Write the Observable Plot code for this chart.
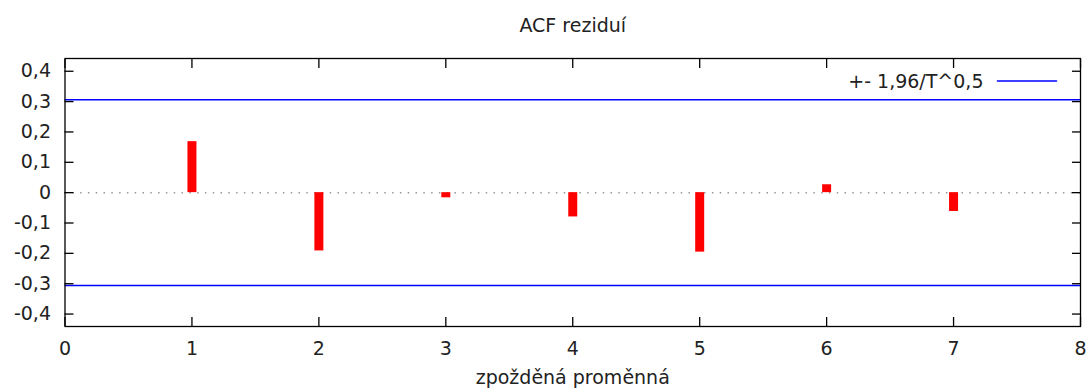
<!DOCTYPE html>
<html><head><meta charset="utf-8">
<script src="https://cdn.jsdelivr.net/npm/d3@7"></script>
<script src="https://cdn.jsdelivr.net/npm/@observablehq/plot@0.6"></script>
<style>body{margin:0;background:#fff}</style>
</head><body><div id="chart"></div>
<script>
const lags = [1, 2, 3, 4, 5, 6, 7];
const acf = [0.168, -0.192, -0.017, -0.080, -0.196, 0.026, -0.062];
const bandValue = 0.306;
const xTicks = [0, 1, 2, 3, 4, 5, 6, 7, 8];
const yTicks = [-0.4, -0.3, -0.2, -0.1, 0, 0.1, 0.2, 0.3, 0.4];
const title = "ACF reziduí";
const xLabel = "zpožděná proměnná";
const legendLabel = "+- 1,96/T^0,5";

const data = lags.map((lag, i) => ({lag, acf: acf[i]}));
const fmtY = v => Math.abs(v) < 1e-9 ? "0" : d3.format(".1f")(v).replace(".", ",").replace("\u2212", "-");
const hLine = {draw(ctx, l) { ctx.moveTo(0, 0); ctx.lineTo(l, 0); }};

const chart = Plot.plot({
  width: 1090,
  height: 391,
  marginLeft: 64.5,
  marginRight: 10,
  marginTop: 58,
  marginBottom: 65,
  style: {fontFamily: "DejaVu Sans", fontSize: "19px", color: "#222", background: "#fff"},
  x: {domain: [0, 8]},
  y: {domain: [-0.441, 0.442]},
  marks: [
    Plot.ruleY([0], {stroke: "#999", strokeWidth: 1.5, strokeDasharray: "1.5,6.3"}),
    Plot.ruleY([bandValue, -bandValue], {stroke: "#0000ff", strokeWidth: 1.6}),
    Plot.ruleX(data, {x: "lag", y1: 0, y2: "acf", stroke: "#ff0000", strokeWidth: 9}),
    Plot.frame({stroke: "#000", strokeWidth: 1.3}),
    Plot.axisY(yTicks, {anchor: "left", tickSize: 0, tickPadding: 14, tickFormat: fmtY, label: null}),
    Plot.axisY(yTicks, {anchor: "left", tickSize: -9, fill: "none", label: null, stroke: "#000", strokeWidth: 1.3}),
    Plot.axisY(yTicks, {anchor: "right", tickSize: -9, fill: "none", label: null, stroke: "#000", strokeWidth: 1.3}),
    Plot.axisX(xTicks, {anchor: "bottom", tickSize: 0, tickPadding: 15, tickFormat: d => String(d), label: null}),
    Plot.axisX(xTicks, {anchor: "bottom", tickSize: -9, fill: "none", label: null, stroke: "#000", strokeWidth: 1.3}),
    Plot.axisX(xTicks, {anchor: "top", tickSize: -9, fill: "none", label: null, stroke: "#000", strokeWidth: 1.3}),
    Plot.text([title], {frameAnchor: "top", lineAnchor: "middle", dy: -33, fill: "#222"}),
    Plot.text([xLabel], {frameAnchor: "bottom", lineAnchor: "middle", dy: 51, fill: "#222"}),
    Plot.text([legendLabel], {frameAnchor: "top-right", lineAnchor: "middle", dx: -97, dy: 23, textAnchor: "end", fill: "#222"}),
    Plot.vector([legendLabel], {frameAnchor: "top-right", dx: -83, dy: 22.5, length: 59, anchor: "start", shape: hLine, stroke: "#0000ff", strokeWidth: 1.6})
  ]
});
document.getElementById("chart").appendChild(chart);
</script>
</body></html>
